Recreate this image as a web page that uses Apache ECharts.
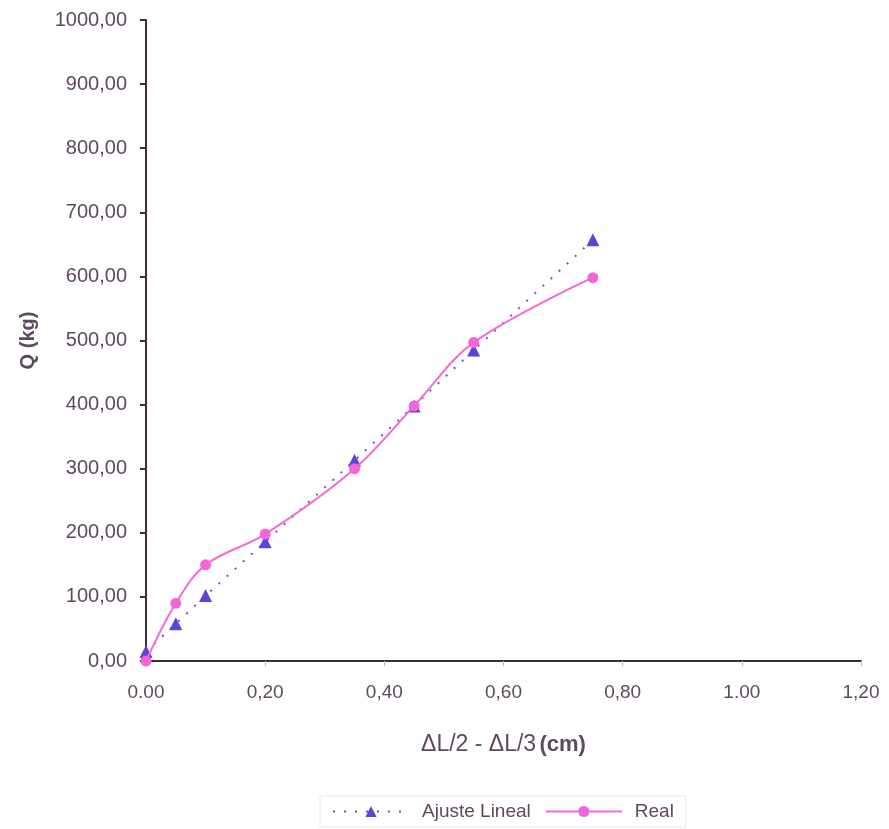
<!DOCTYPE html>
<html>
<head>
<meta charset="utf-8">
<script src="https://cdn.jsdelivr.net/npm/echarts@6/dist/echarts.min.js"></script>
<style>html,body{margin:0;padding:0;background:#fff;}#c{width:889px;height:829px;}</style>
</head>
<body>
<div id="c"></div>
<script>
const xValues = [0, 0.05, 0.10, 0.20, 0.35, 0.45, 0.55, 0.75];
const ajusteLineal = [15, 58, 102, 186, 313, 398, 485, 657];
const real = [0, 90, 150, 198, 300, 398, 497, 598];
const xTickLabels = {"0": "0.00", "0.2": "0,20", "0.4": "0,40", "0.6": "0,60", "0.8": "0,80", "1": "1.00", "1.2": "1,20"};
const yTickLabels = ["0,00","100,00","200,00","300,00","400,00","500,00","600,00","700,00","800,00","900,00","1000,00"];

const textColor = '#5e4a5e';
const axisColor = '#3f2a3d';
const font = 'Liberation Sans, Arial, sans-serif';
const chart = echarts.init(document.getElementById('c'));
chart.setOption({
  backgroundColor: '#ffffff',
  animation: false,
  textStyle: { fontFamily: font },
  grid: { left: 146, right: 28, top: 20, bottom: 168, containLabel: false },
  xAxis: {
    type: 'value', min: 0, max: 1.2, interval: 0.2,
    name: '{n|ΔL/2 - ΔL/3} {b|(cm)}',
    nameLocation: 'middle', nameGap: 72,
    nameTextStyle: {
      rich: {
        n: { fontSize: 23, color: textColor, fontFamily: font },
        b: { fontSize: 22, fontWeight: 'bold', color: textColor, fontFamily: font }
      }
    },
    axisLine: { show: true, onZero: false, lineStyle: { color: axisColor, width: 2 } },
    axisTick: { show: true, length: 5, lineStyle: { color: '#bdb5bd', width: 1 } },
    axisLabel: {
      margin: 22, fontSize: 19, color: textColor,
      formatter: v => xTickLabels[String(Math.round(v * 10) / 10)] || ''
    },
    splitLine: { show: false }
  },
  yAxis: {
    type: 'value', min: 0, max: 1000, interval: 100,
    name: 'Q (kg)', nameLocation: 'middle', nameGap: 108, nameRotate: 90,
    nameTextStyle: { fontSize: 20, fontWeight: 'bold', color: textColor },
    axisLine: { show: true, lineStyle: { color: axisColor, width: 2 } },
    axisTick: { show: true, length: 6, lineStyle: { color: axisColor, width: 2 } },
    axisLabel: {
      margin: 19, fontSize: 20, color: textColor,
      formatter: v => yTickLabels[Math.round(v / 100)]
    },
    splitLine: { show: false }
  },
  legend: {
    bottom: 2, left: 320,
    borderColor: '#e6e6e6', borderWidth: 1, padding: [6, 12],
    itemWidth: 76, itemHeight: 14, itemGap: 14,
    textStyle: { fontSize: 19, color: textColor, padding: [0, 0, 0, 8] },
    data: ['Ajuste Lineal', 'Real']
  },
  series: [
    {
      name: 'Ajuste Lineal', type: 'line',
      data: xValues.map((x, i) => [x, ajusteLineal[i]]),
      symbol: 'triangle', symbolSize: 13,
      itemStyle: { color: '#5b45d6' },
      lineStyle: { color: '#6a5ac8', width: 2, type: [2, 9] },
      z: 2
    },
    {
      name: 'Real', type: 'line', smooth: 0.35,
      data: xValues.map((x, i) => [x, real[i]]),
      symbol: 'circle', symbolSize: 11,
      itemStyle: { color: '#f466d8' },
      lineStyle: { color: '#f46ad8', width: 2 },
      z: 3
    }
  ]
});
</script>
</body>
</html>
